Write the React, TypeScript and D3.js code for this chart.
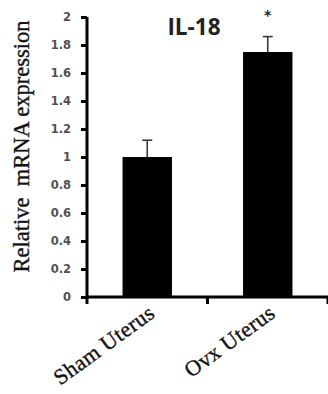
import React, { useEffect, useRef } from 'react';
import * as d3 from 'd3';

const width = 328;
const height = 394;

// data
const categories = ['Sham Uterus', 'Ovx Uterus'];
const means = [1.0, 1.75];
const errors = [0.12, 0.11];
const marks = ['', '*'];
const yTicks = [0, 0.2, 0.4, 0.6, 0.8, 1, 1.2, 1.4, 1.6, 1.8, 2];

const plot = { left: 87, right: 328, top: 17, bottom: 297 };

const App = () => {
  const xAxisRef = useRef<SVGGElement>(null);
  const yAxisRef = useRef<SVGGElement>(null);

  const xScale = d3
    .scaleBand<string>()
    .domain(categories)
    .range([plot.left, plot.right])
    .paddingInner(0.59)
    .paddingOuter(0.295);

  const yScale = d3.scaleLinear().domain([0, 2]).range([plot.bottom, plot.top]);

  useEffect(() => {
    const yAxis = d3
      .axisLeft(yScale)
      .tickValues(yTicks)
      .tickSize(6)
      .tickPadding(10)
      .tickFormat(d => String(+(+d).toFixed(1)));
    const gy = d3.select(yAxisRef.current);
    gy.call(yAxis as any);
    gy.select('.domain').attr('stroke', '#000').attr('stroke-width', 3).attr('d', `M0,${plot.top}V${plot.bottom + 2}`);
    gy.selectAll('.tick line').attr('stroke', '#000').attr('stroke-width', 3);
    gy.selectAll('.tick text')
      .attr('fill', '#505050')
      .style('font-family', 'DejaVu Sans')
      .style('font-weight', 'bold')
      .style('font-size', '11.5px');

    // x axis ticks sit on the category boundaries
    const step = xScale.step();
    const bounds = d3.range(categories.length + 1).map(i => plot.left + i * step);
    const gx = d3.select(xAxisRef.current);
    gx.selectAll('*').remove();
    gx.append('line')
      .attr('x1', plot.left)
      .attr('x2', plot.right)
      .attr('stroke', '#000')
      .attr('stroke-width', 3);
    gx.selectAll('line.tk')
      .data(bounds)
      .join('line')
      .attr('class', 'tk')
      .attr('x1', d => d)
      .attr('x2', d => d)
      .attr('y1', 0)
      .attr('y2', 7)
      .attr('stroke', '#000')
      .attr('stroke-width', 3);
  });

  const serif = { fontFamily: 'Liberation Serif', fontSize: 22, stroke: '#222', strokeWidth: 0.4 };

  return (
    <svg width={width} height={height} style={{ position: 'absolute', left: 0, top: 0, background: '#fff' }}>
      <text
        x={194}
        y={35}
        textAnchor="middle"
        fill="#222"
        style={{ fontFamily: 'Open Sans', fontWeight: 'bold', fontSize: 22.5 }}
      >
        IL-18
      </text>

      {categories.map((c, i) => (
        <rect
          key={c}
          x={xScale(c)}
          y={yScale(means[i])}
          width={xScale.bandwidth()}
          height={plot.bottom - yScale(means[i])}
          fill="#000"
        />
      ))}

      {categories.map((c, i) => {
        const cx = (xScale(c) as number) + xScale.bandwidth() / 2;
        const top = yScale(means[i] + errors[i]);
        return (
          <g key={c + '-err'} stroke="#3a3a3a" strokeWidth={1.6}>
            <line x1={cx} x2={cx} y1={yScale(means[i])} y2={top} />
            <line x1={cx - 5} x2={cx + 5} y1={top} y2={top} />
          </g>
        );
      })}

      {categories.map((c, i) => (
        <text
          key={c + '-sig'}
          x={(xScale(c) as number) + xScale.bandwidth() / 2}
          y={20}
          textAnchor="middle"
          fill="#222"
          style={{ fontFamily: 'DejaVu Sans', fontWeight: 'bold', fontSize: 14 }}
        >
          {marks[i]}
        </text>
      ))}

      <g ref={xAxisRef} transform={`translate(0, ${plot.bottom})`} />
      <g ref={yAxisRef} transform={`translate(${plot.left}, 0)`} />

      {categories.map(c => {
        const cx = (xScale(c) as number) + xScale.bandwidth() / 2 + 9;
        return (
          <text
            key={c + '-lbl'}
            transform={`translate(${cx}, 316) rotate(-36)`}
            textAnchor="end"
            fill="#111"
            style={{ ...serif, letterSpacing: 0.4 }}
          >
            {c}
          </text>
        );
      })}

      <text
        transform={`translate(29, 146.5) rotate(-90)`}
        textAnchor="middle"
        fill="#111"
        style={{ ...serif, fontSize: 22.5, whiteSpace: 'pre' }}
      >
        {'Relative  mRNA expression'}
      </text>
    </svg>
  );
};

export default App;
